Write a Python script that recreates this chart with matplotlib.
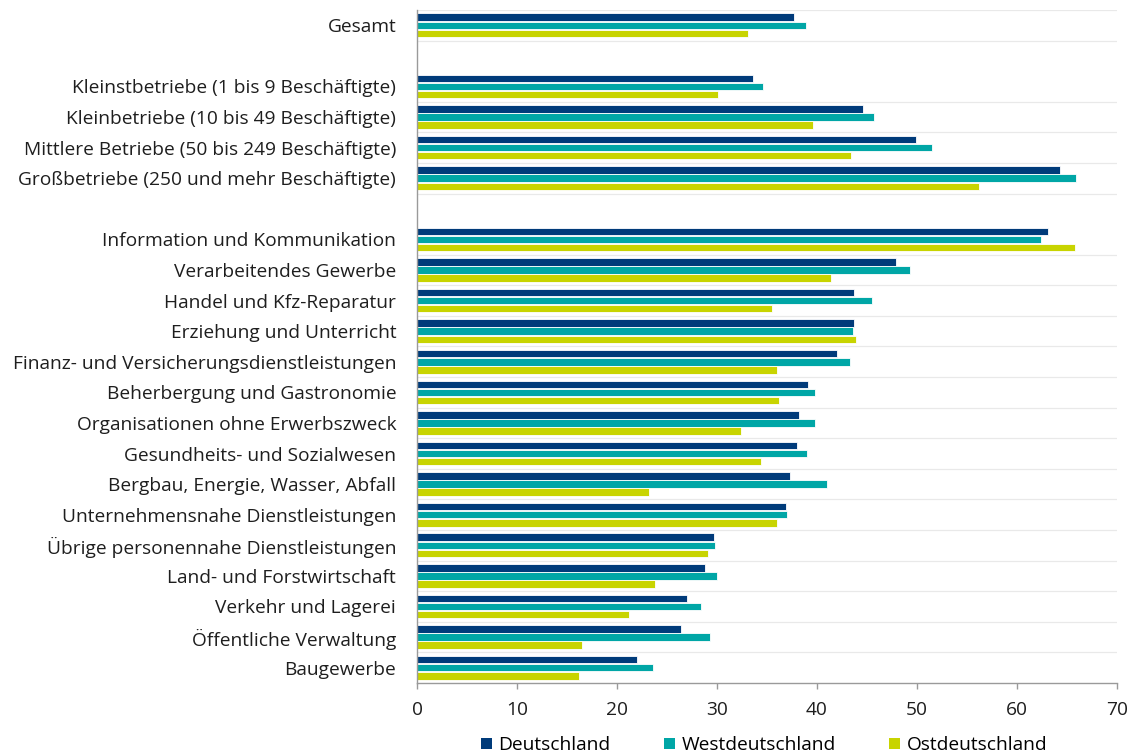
import matplotlib.pyplot as plt
from matplotlib.patches import Patch
import numpy as np

plt.rcParams['font.family'] = ['Open Sans', 'DejaVu Sans']

# Kategorien in drei Blöcken, zwischen den Blöcken bleibt eine Zeile frei
GROUP_TOTAL = ["Gesamt"]
GROUP_SIZE = [
    "Kleinstbetriebe (1 bis 9 Beschäftigte)",
    "Kleinbetriebe (10 bis 49 Beschäftigte)",
    "Mittlere Betriebe (50 bis 249 Beschäftigte)",
    "Großbetriebe (250 und mehr Beschäftigte)",
]
GROUP_SECTOR = [
    "Information und Kommunikation",
    "Verarbeitendes Gewerbe",
    "Handel und Kfz-Reparatur",
    "Erziehung und Unterricht",
    "Finanz- und Versicherungsdienstleistungen",
    "Beherbergung und Gastronomie",
    "Organisationen ohne Erwerbszweck",
    "Gesundheits- und Sozialwesen",
    "Bergbau, Energie, Wasser, Abfall",
    "Unternehmensnahe Dienstleistungen",
    "Übrige personennahe Dienstleistungen",
    "Land- und Forstwirtschaft",
    "Verkehr und Lagerei",
    "Öffentliche Verwaltung",
    "Baugewerbe",
]

deutschland = [37.7,
               33.6, 44.6, 49.9, 64.3,
               63.1, 47.9, 43.7, 43.7, 42.0, 39.1, 38.2, 38.0, 37.3, 36.9,
               29.7, 28.8, 27.0, 26.4, 22.0]
west = [38.9,
        34.6, 45.7, 51.5, 65.9,
        62.4, 49.3, 45.5, 43.6, 43.3, 39.8, 39.8, 39.0, 41.0, 37.0,
        29.8, 30.0, 28.4, 29.3, 23.6]
ost = [33.1,
       30.1, 39.6, 43.4, 56.2,
       65.8, 41.4, 35.5, 43.9, 36.0, 36.2, 32.4, 34.4, 23.2, 36.0,
       29.1, 23.8, 21.2, 16.5, 16.2]

SERIES = ["Deutschland", "Westdeutschland", "Ostdeutschland"]
COLORS = ["#003b7a", "#00a6a6", "#c8d400"]

# y-Positionen: pro Kategorie eine Zeile, Leerzeile zwischen Gruppen
labels, pos = [], []
row = 0
for group in (GROUP_TOTAL, GROUP_SIZE, GROUP_SECTOR):
    for name in group:
        labels.append(name)
        pos.append(row)
        row += 1
    row += 1
pos = np.array(pos)
n_rows = row - 1

fig = plt.figure(figsize=(11.32, 7.56), dpi=100)
ax = fig.add_axes([0.3684, 0.0966, 0.6184, 0.8902])

h = 0.245
step = 0.265
for i, (vals, col, name) in enumerate(zip([deutschland, west, ost], COLORS, SERIES)):
    ax.barh(pos + (i - 1) * step, vals, height=h, color=col,
            edgecolor="white", linewidth=0.6, label=name, zorder=2)

# feine Trennlinien unter jeder Kategorie
ax.axhline(-0.5, color="#e9e9e9", lw=0.9, zorder=0)
for p in pos[:-1]:
    ax.axhline(p + 0.5, color="#e9e9e9", lw=0.9, zorder=0)

ax.set_xlim(0, 70)
ax.set_ylim(n_rows - 0.5, -0.5)
ax.set_xticks(range(0, 71, 10))
ax.set_yticks(pos)
ax.set_yticklabels(labels)

for s in ("top", "right"):
    ax.spines[s].set_visible(False)
for s in ("left", "bottom"):
    ax.spines[s].set_color("#9a9a9a")
    ax.spines[s].set_linewidth(1.0)

ax.tick_params(axis="y", length=0, pad=15, labelsize=13.8, labelcolor="#1e1e1e")
ax.tick_params(axis="x", length=4, width=1, color="#9a9a9a", pad=9,
               labelsize=13.8, labelcolor="#1e1e1e")

handles = [Patch(facecolor=c, edgecolor="none") for c in COLORS]
fig.legend(handles, SERIES, loc="center", bbox_to_anchor=(0.675, 0.014),
           ncol=3, frameon=False, fontsize=13.8, handlelength=0.55,
           handleheight=0.55, handletextpad=0.35, columnspacing=2.8,
           borderpad=0.1)

fig.savefig("out.png", dpi=100, facecolor="white")
